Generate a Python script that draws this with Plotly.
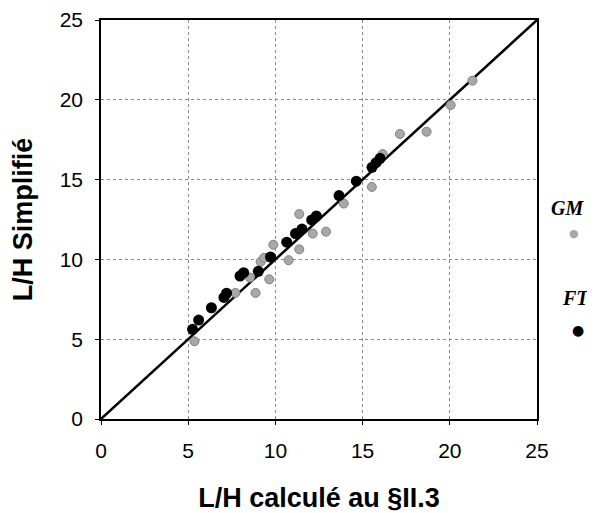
import plotly.graph_objects as go

# Data
ft_x = [5.25, 5.6, 6.33, 7.05, 7.2, 7.97, 8.18, 9.02, 9.72, 10.65, 11.15, 11.52, 12.08, 12.35, 13.65, 14.64, 15.54, 15.77, 16.0]
ft_y = [5.62, 6.2, 6.97, 7.62, 7.88, 8.96, 9.17, 9.25, 10.15, 11.08, 11.62, 11.9, 12.47, 12.72, 14.0, 14.9, 15.77, 16.06, 16.33]

gm_x = [5.36, 7.71, 8.54, 8.86, 9.15, 9.35, 9.65, 9.88, 10.76, 11.37, 11.37, 12.14, 12.9, 13.92, 15.53, 16.15, 17.14, 18.67, 20.05, 21.3]
gm_y = [4.87, 7.9, 8.86, 7.9, 9.85, 10.1, 8.75, 10.92, 9.95, 10.63, 12.84, 11.62, 11.74, 13.5, 14.54, 16.6, 17.86, 18.0, 19.67, 21.2]

line_x = [0, 25]
line_y = [0, 25]
ticks = [0, 5, 10, 15, 20, 25]

fig = go.Figure()
fig.add_trace(go.Scatter(x=line_x, y=line_y, mode="lines",
                         line=dict(color="black", width=2.5), showlegend=False, hoverinfo="skip"))
fig.add_trace(go.Scatter(x=gm_x, y=gm_y, mode="markers", name="GM",
                         marker=dict(color="#a8a8a8", size=9, line=dict(color="#808080", width=1)),
                         showlegend=False))
fig.add_trace(go.Scatter(x=ft_x, y=ft_y, mode="markers", name="FT",
                         marker=dict(color="black", size=11), showlegend=False))

axis_common = dict(range=[0, 25], tickvals=ticks, showgrid=True, gridcolor="#8a8a8a",
                   griddash="dot", gridwidth=1, showline=True, linecolor="black", linewidth=1.5,
                   mirror=True, ticks="outside", ticklen=4, tickcolor="black", zeroline=False,
                   automargin=False, ticklabelstandoff=8,
                   tickfont=dict(family="Liberation Sans, Arial", size=21, color="black"))

legend_font = dict(family="Liberation Serif, Times New Roman", size=20, color="black")
title_font = dict(family="Liberation Sans, Arial", size=27, color="black")

fig.update_layout(
    width=587, height=505,
    margin=dict(l=93, r=58, t=12, b=94, autoexpand=False),
    plot_bgcolor="white", paper_bgcolor="white",
    xaxis=dict(**axis_common,
               title=dict(text="<b>L/H calculé au §II.3</b>", standoff=37, font=title_font)),
    yaxis=dict(**axis_common,
               title=dict(text="<b>L/H Simplifié</b>", standoff=19, font=title_font)),
    annotations=[
        dict(xref="paper", yref="paper", x=1.069, y=0.529, xanchor="center", yanchor="middle",
             text="<b><i>GM</i></b>", showarrow=False, font=legend_font),
        dict(xref="paper", yref="paper", x=1.085, y=0.466, xanchor="center", yanchor="middle",
             text="●", showarrow=False,
             font=dict(family="DejaVu Sans", size=11, color="#a8a8a8")),
        dict(xref="paper", yref="paper", x=1.089, y=0.303, xanchor="center", yanchor="middle",
             text="<b><i>FT</i></b>", showarrow=False, font=legend_font),
        dict(xref="paper", yref="paper", x=1.094, y=0.223, xanchor="center", yanchor="middle",
             text="●", showarrow=False,
             font=dict(family="DejaVu Sans", size=14, color="black")),
    ],
)

fig.write_html("out.html")
